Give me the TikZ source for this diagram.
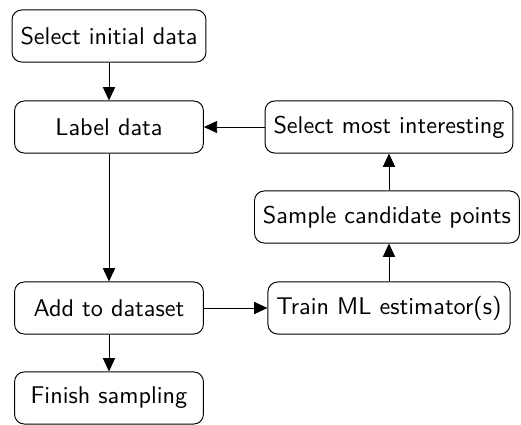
\documentclass[tikz,border=0pt]{standalone}
\usepackage{tikz}
\usepackage{xcolor}
\usetikzlibrary{arrows.meta}

\begin{document}
\begin{tikzpicture}[x=0.413pt,y=0.413pt,yscale=-1,xscale=1,
  stage/.style={draw, rounded corners=4pt, minimum height=21.5pt, inner xsep=3.5pt, font=\sffamily},
  leftstage/.style={stage, minimum width=78pt},
  flow/.style={-{Triangle[length=5.5pt,width=5pt]}}]
\useasboundingbox (0,0) rectangle (521,424);

% Left column
\node [leftstage] (initial) at (109,36) {Select initial data};
\node [leftstage] (label) at (109,127) {Label data};
\node [leftstage] (add) at (109,308) {Add to dataset};
\node [leftstage] (finish) at (109,398) {Finish sampling};

% Right column
\node [stage] (train) at (389,308) {Train ML estimator(s)};
\node [stage] (sample) at (387,217) {Sample candidate points};
\node [stage] (select) at (389,127) {Select most interesting};

% Arrows
\draw [flow] (initial) -- (label);
\draw [flow] (label) -- (add);
\draw [flow] (add) -- (finish);
\draw [flow] (add) -- (train);
\draw [flow] (train) -- (train |- sample.south);
\draw [flow] (select |- sample.north) -- (select);
\draw [flow] (select) -- (label);

\end{tikzpicture}
\end{document}
